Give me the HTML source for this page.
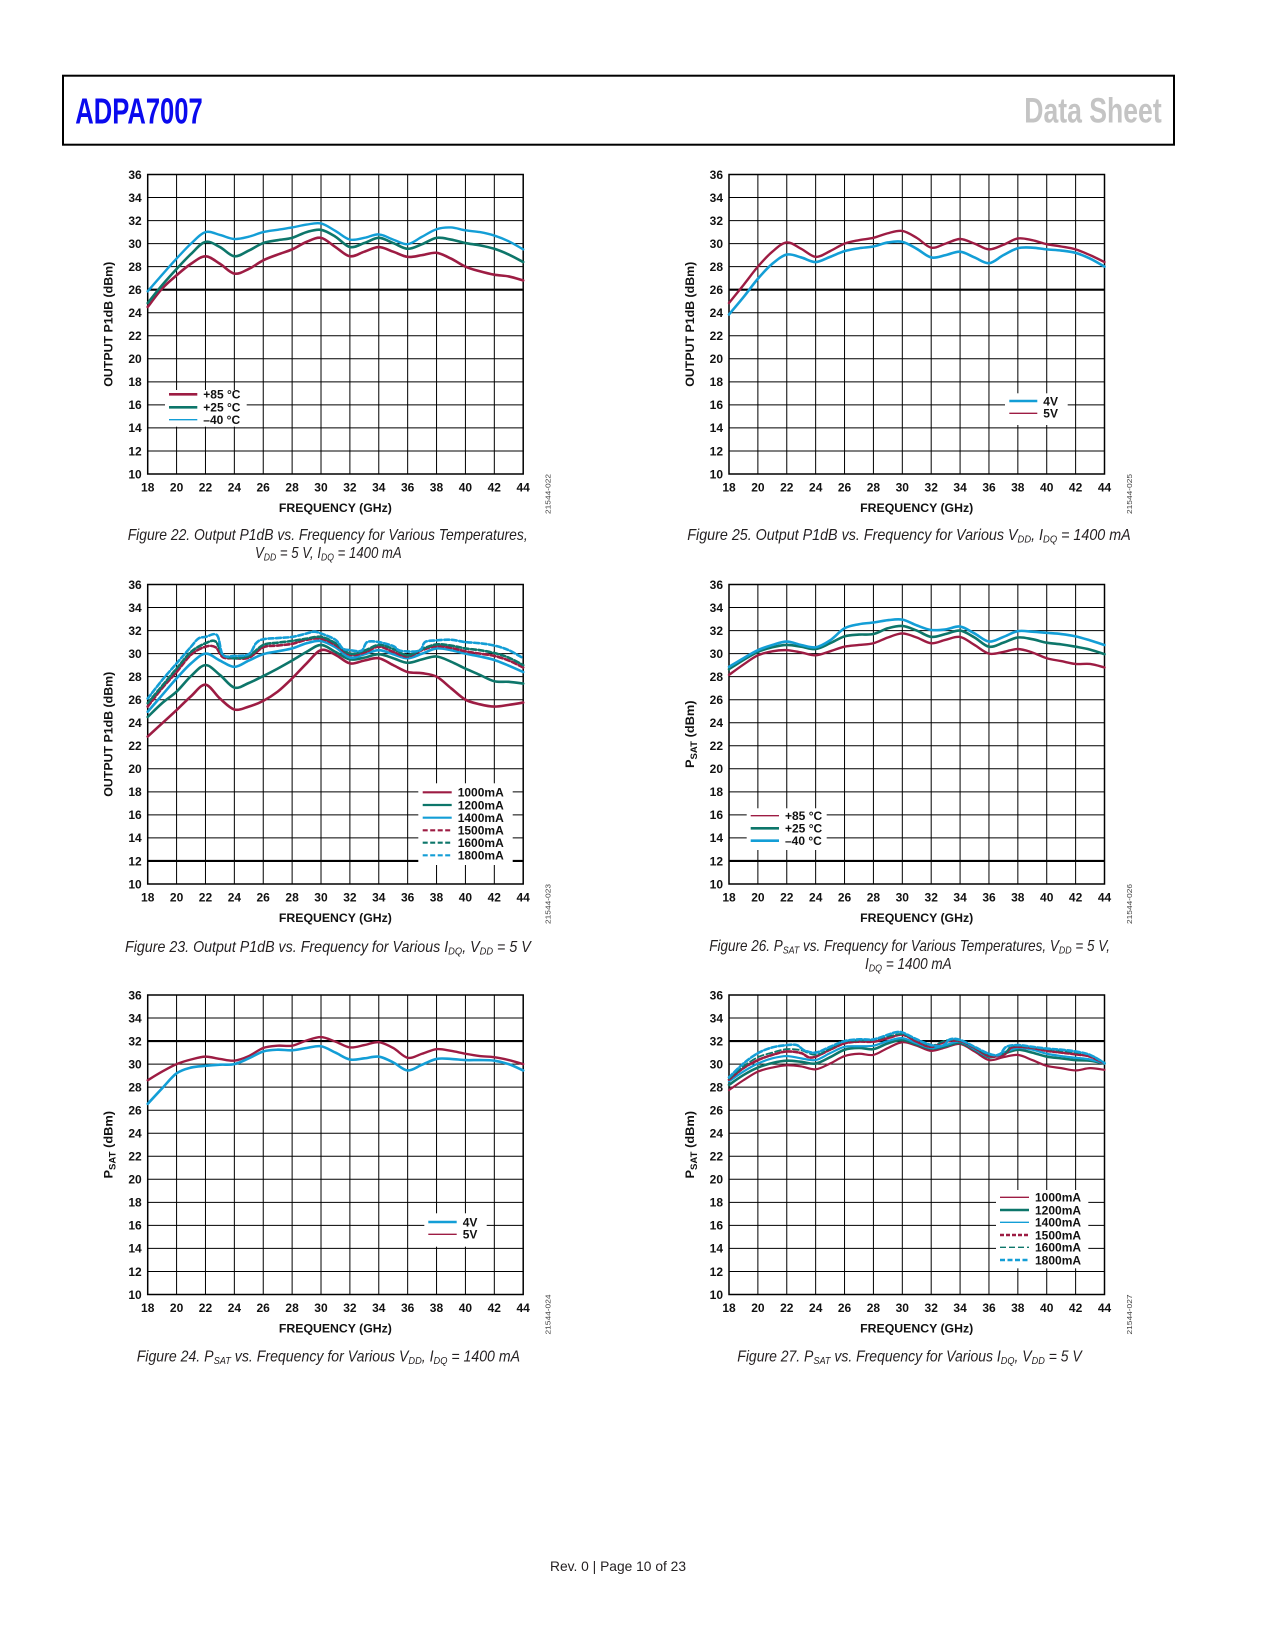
<!DOCTYPE html>
<html><head><meta charset="utf-8"><style>
html,body{margin:0;padding:0;background:#fff;}
svg{display:block;}
.tk{font:bold 12px "Liberation Sans",Arial,sans-serif;fill:#111;}
.ax{font:bold 12px "Liberation Sans",Arial,sans-serif;fill:#111;}
.lg{font:bold 12px "Liberation Sans",Arial,sans-serif;fill:#111;}
.id{font:7.5px "Liberation Sans",Arial,sans-serif;fill:#444;}
.cap{font:italic 16px "Liberation Sans",Arial,sans-serif;fill:#231f20;}
.grid{stroke:#000;stroke-width:1;fill:none;}
.cv{fill:none;stroke-linejoin:round;stroke-linecap:round;}
.r{stroke:#9d1c43;}.t{stroke:#0d766a;}.b{stroke:#139ed6;}
</style></head><body>
<svg width="1275" height="1650" viewBox="0 0 1275 1650" xmlns="http://www.w3.org/2000/svg">
<rect x="0" y="0" width="1275" height="1650" fill="#fff"/>
<!-- header -->
<rect x="63" y="75.7" width="1111" height="69" fill="none" stroke="#000" stroke-width="2"/>
<text x="75.3" y="123.3" textLength="127.4" lengthAdjust="spacingAndGlyphs" style="font:bold 35.7px 'Liberation Sans',Arial,sans-serif;fill:#0a0aee;">ADPA7007</text>
<text x="1024.3" y="122.7" textLength="137.4" lengthAdjust="spacingAndGlyphs" style="font:bold 35px 'Liberation Sans',Arial,sans-serif;fill:#c4c4c4;">Data Sheet</text>

<defs>
<path id="gp" d="M28.88 0V299.5M57.77 0V299.5M86.65 0V299.5M115.54 0V299.5M144.42 0V299.5M173.31 0V299.5M202.19 0V299.5M231.08 0V299.5M259.96 0V299.5M288.85 0V299.5M317.73 0V299.5M346.62 0V299.5M0 23.04H375.5M0 46.08H375.5M0 69.12H375.5M0 92.15H375.5M0 115.19H375.5M0 138.23H375.5M0 161.27H375.5M0 184.31H375.5M0 207.35H375.5M0 230.38H375.5M0 253.42H375.5M0 276.46H375.5"/>
</defs>

<!-- ============ CHART 1 ============ -->
<g transform="translate(147.7,174.5)">
<use href="#gp" class="grid"/>
<rect x="0" y="0" width="375.5" height="299.5" fill="none" stroke="#000" stroke-width="1.5"/>
<line x1="0" y1="115.19" x2="375.5" y2="115.19" stroke="#000" stroke-width="2.2"/>
<rect x="17.3" y="215.5" width="81.7" height="36.7" fill="#fff"/>
<line x1="21.3" y1="219.8" x2="49.6" y2="219.8" class="r" stroke-width="2.6"/>
<line x1="21.3" y1="232.8" x2="49.6" y2="232.8" class="t" stroke-width="2.6"/>
<line x1="21.3" y1="245.2" x2="49.6" y2="245.2" class="b" stroke-width="1.3"/>
<text class="lg"><tspan x="55.6" y="224.1">+85 °C</tspan><tspan x="55.6" y="237.1">+25 °C</tspan><tspan x="55.6" y="249.5">–40 °C</tspan></text>
<g transform="matrix(14.4423,0,0,-11.5192,-259.96,414.69)">
<polyline class="cv r" vector-effect="non-scaling-stroke" stroke-width="2.6" points="18,24.5 19,26.1 20,27.25 21,28.25 22,28.9 23,28.25 24,27.4 25,27.8 26,28.55 27,29.05 28,29.5 29,30.15 30,30.5 31,29.7 32,28.9 33,29.3 34,29.7 35,29.3 36,28.85 37,29.0 38,29.2 39,28.7 40,28.0 41,27.6 42,27.3 43,27.15 44,26.8"/>
<polyline class="cv t" vector-effect="non-scaling-stroke" stroke-width="2.6" points="18,24.84 19,26.4 20,27.8 21,29.1 22,30.15 23,29.7 24,28.9 25,29.4 26,30.05 27,30.3 28,30.5 29,31.0 30,31.2 31,30.6 32,29.7 33,30.05 34,30.5 35,30.05 36,29.55 37,29.95 38,30.5 39,30.35 40,30.05 41,29.85 42,29.55 43,29.05 44,28.4"/>
<polyline class="cv b" vector-effect="non-scaling-stroke" stroke-width="2.4" points="18,25.86 19,27.3 20,28.7 21,30.0 22,31.0 23,30.75 24,30.4 25,30.6 26,31.0 27,31.2 28,31.4 29,31.65 30,31.75 31,31.1 32,30.35 33,30.5 34,30.8 35,30.35 36,29.95 37,30.6 38,31.25 39,31.4 40,31.15 41,31.0 42,30.7 43,30.2 44,29.5"/>
</g>
<text class="tk" text-anchor="end"><tspan x="-6" y="4.3">36</tspan><tspan x="-6" y="27.3">34</tspan><tspan x="-6" y="50.4">32</tspan><tspan x="-6" y="73.4">30</tspan><tspan x="-6" y="96.5">28</tspan><tspan x="-6" y="119.5">26</tspan><tspan x="-6" y="142.5">24</tspan><tspan x="-6" y="165.6">22</tspan><tspan x="-6" y="188.6">20</tspan><tspan x="-6" y="211.7">18</tspan><tspan x="-6" y="234.7">16</tspan><tspan x="-6" y="257.7">14</tspan><tspan x="-6" y="280.8">12</tspan><tspan x="-6" y="303.8">10</tspan></text>
<text class="tk" text-anchor="middle" y="317.2"><tspan x="0">18</tspan><tspan x="28.9">20</tspan><tspan x="57.8">22</tspan><tspan x="86.7">24</tspan><tspan x="115.5">26</tspan><tspan x="144.4">28</tspan><tspan x="173.3">30</tspan><tspan x="202.2">32</tspan><tspan x="231.1">34</tspan><tspan x="260">36</tspan><tspan x="288.8">38</tspan><tspan x="317.7">40</tspan><tspan x="346.6">42</tspan><tspan x="375.5">44</tspan></text>
<text class="ax" x="131.2" y="337.5" textLength="113" lengthAdjust="spacingAndGlyphs">FREQUENCY (GHz)</text>
<text class="ax" transform="translate(-35.1,149.75) rotate(-90)" x="-62.5" y="0" textLength="125" lengthAdjust="spacingAndGlyphs">OUTPUT P1dB (dBm)</text>
<text class="id" transform="translate(402.9,319.5) rotate(-90)" x="-20" y="0" textLength="40" lengthAdjust="spacingAndGlyphs">21544-022</text>
</g>

<!-- ============ CHART 2 ============ -->
<g transform="translate(147.7,584.5)">
<use href="#gp" class="grid"/>
<rect x="0" y="0" width="375.5" height="299.5" fill="none" stroke="#000" stroke-width="1.5"/>
<line x1="0" y1="276.46" x2="375.5" y2="276.46" stroke="#000" stroke-width="2.2"/>
<rect x="270.6" y="198.8" width="94.4" height="81.7" fill="#fff"/>
<line x1="275" y1="207.8" x2="304" y2="207.8" class="r" stroke-width="2.2"/>
<line x1="275" y1="220.5" x2="304" y2="220.5" class="t" stroke-width="2.2"/>
<line x1="275" y1="233.2" x2="304" y2="233.2" class="b" stroke-width="2.2"/>
<line x1="275" y1="245.8" x2="304" y2="245.8" class="r" stroke-width="2.2" stroke-dasharray="5 2.5"/>
<line x1="275" y1="258.2" x2="304" y2="258.2" class="t" stroke-width="2.2" stroke-dasharray="5 2.5"/>
<line x1="275" y1="270.8" x2="304" y2="270.8" class="b" stroke-width="2.2" stroke-dasharray="5 2.5"/>
<text class="lg"><tspan x="310" y="212.1">1000mA</tspan><tspan x="310" y="224.8">1200mA</tspan><tspan x="310" y="237.5">1400mA</tspan><tspan x="310" y="250.1">1500mA</tspan><tspan x="310" y="262.5">1600mA</tspan><tspan x="310" y="275.1">1800mA</tspan></text>
<g transform="matrix(14.4423,0,0,-11.5192,-259.96,414.69)">
<polyline class="cv r" vector-effect="non-scaling-stroke" stroke-width="2.6" points="18,22.8 19,23.95 20,25.1 21,26.3 22,27.3 23,26.1 24,25.15 25,25.4 26,25.9 27,26.7 28,27.85 29,29.15 30,30.3 31,29.9 32,29.15 33,29.4 34,29.6 35,29.0 36,28.4 37,28.3 38,28.0 39,27.0 40,26.0 41,25.6 42,25.4 43,25.55 44,25.75"/>
<polyline class="cv t" vector-effect="non-scaling-stroke" stroke-width="2.6" points="18,24.5 19,25.7 20,26.7 21,28.05 22,29.0 23,28.15 24,27.05 25,27.45 26,28.05 27,28.7 28,29.4 29,30.15 30,30.75 31,30.15 32,29.5 33,29.65 34,29.95 35,29.6 36,29.2 37,29.5 38,29.75 39,29.3 40,28.7 41,28.15 42,27.6 43,27.55 44,27.4"/>
<polyline class="cv b" vector-effect="non-scaling-stroke" stroke-width="2.6" points="18,24.95 19,26.4 20,27.85 21,29.15 22,30.0 23,29.4 24,28.85 25,29.4 26,29.95 27,30.2 28,30.45 29,30.9 30,31.1 31,30.55 32,29.65 33,29.95 34,30.3 35,29.95 36,29.6 37,30.0 38,30.45 39,30.3 40,30.0 41,29.75 42,29.45 43,28.95 44,28.4"/>
<polyline class="cv r" vector-effect="non-scaling-stroke" stroke-width="2.6" stroke-dasharray="5 2.5" stroke-linecap="butt" points="18,25.4 19,27.0 20,28.4 21,29.9 22,30.6 22.7,30.55 23.2,29.7 24,29.6 25,29.65 26,30.55 27,30.7 28,30.85 29,31.2 30,31.3 31,30.75 32,29.9 33,30.1 34,30.6 35,30.15 36,29.75 37,30.3 38,30.65 39,30.5 40,30.2 41,30.0 42,29.8 43,29.4 44,28.8"/>
<polyline class="cv t" vector-effect="non-scaling-stroke" stroke-width="2.6" stroke-dasharray="5 2.5" stroke-linecap="butt" points="18,25.7 19,27.2 20,28.7 21,30.15 22,30.9 22.7,31.05 23.2,29.9 24,29.6 25,29.8 26,30.75 27,30.95 28,31.1 29,31.3 30,31.45 31,30.9 32,30.0 33,30.25 34,30.75 35,30.4 36,29.85 37,30.4 38,30.8 39,30.7 40,30.45 41,30.3 42,30.05 43,29.65 44,29.0"/>
<polyline class="cv b" vector-effect="non-scaling-stroke" stroke-width="2.6" stroke-dasharray="5 2.5" stroke-linecap="butt" points="18,26.1 19,27.7 20,29.15 21,30.6 21.5,31.3 22,31.45 22.8,31.6 23.2,29.9 24,29.8 25,29.95 25.5,30.9 26,31.25 27,31.35 28,31.45 29,31.75 29.5,31.9 30,31.75 31,31.2 31.5,30.45 32,30.3 32.8,30.25 33.2,31.0 34,31.0 35,30.65 35.5,30.25 36.8,30.25 37.2,31.0 38,31.15 39,31.2 40,31.0 41,30.9 42,30.7 43,30.3 44,29.6"/>
</g>
<text class="tk" text-anchor="end"><tspan x="-6" y="4.3">36</tspan><tspan x="-6" y="27.3">34</tspan><tspan x="-6" y="50.4">32</tspan><tspan x="-6" y="73.4">30</tspan><tspan x="-6" y="96.5">28</tspan><tspan x="-6" y="119.5">26</tspan><tspan x="-6" y="142.5">24</tspan><tspan x="-6" y="165.6">22</tspan><tspan x="-6" y="188.6">20</tspan><tspan x="-6" y="211.7">18</tspan><tspan x="-6" y="234.7">16</tspan><tspan x="-6" y="257.7">14</tspan><tspan x="-6" y="280.8">12</tspan><tspan x="-6" y="303.8">10</tspan></text>
<text class="tk" text-anchor="middle" y="317.2"><tspan x="0">18</tspan><tspan x="28.9">20</tspan><tspan x="57.8">22</tspan><tspan x="86.7">24</tspan><tspan x="115.5">26</tspan><tspan x="144.4">28</tspan><tspan x="173.3">30</tspan><tspan x="202.2">32</tspan><tspan x="231.1">34</tspan><tspan x="260">36</tspan><tspan x="288.8">38</tspan><tspan x="317.7">40</tspan><tspan x="346.6">42</tspan><tspan x="375.5">44</tspan></text>
<text class="ax" x="131.2" y="337.5" textLength="113" lengthAdjust="spacingAndGlyphs">FREQUENCY (GHz)</text>
<text class="ax" transform="translate(-35.1,149.75) rotate(-90)" x="-62.5" y="0" textLength="125" lengthAdjust="spacingAndGlyphs">OUTPUT P1dB (dBm)</text>
<text class="id" transform="translate(402.9,319.5) rotate(-90)" x="-20" y="0" textLength="40" lengthAdjust="spacingAndGlyphs">21544-023</text>
</g>

<!-- ============ CHART 3 ============ -->
<g transform="translate(147.7,995)">
<use href="#gp" class="grid"/>
<rect x="0" y="0" width="375.5" height="299.5" fill="none" stroke="#000" stroke-width="1.5"/>
<line x1="0" y1="46.08" x2="375.5" y2="46.08" stroke="#000" stroke-width="2.2"/>
<rect x="276.6" y="218.3" width="62.4" height="33.4" fill="#fff"/>
<line x1="280.6" y1="227" x2="309" y2="227" class="b" stroke-width="2.6"/>
<line x1="280.6" y1="239.3" x2="309" y2="239.3" class="r" stroke-width="1.4"/>
<text class="lg"><tspan x="315" y="231.3">4V</tspan><tspan x="315" y="243.6">5V</tspan></text>
<g transform="matrix(14.4423,0,0,-11.5192,-259.96,414.69)">
<polyline class="cv r" vector-effect="non-scaling-stroke" stroke-width="2.4" points="18,28.6 19,29.35 20,30.0 21,30.4 22,30.65 23,30.45 24,30.3 25,30.7 26,31.4 27,31.6 28,31.6 29,32.05 30,32.35 31,31.95 32,31.45 33,31.65 34,31.9 35,31.4 36,30.55 37,30.9 38,31.3 39,31.15 40,30.9 41,30.7 42,30.6 43,30.35 44,30.0"/>
<polyline class="cv b" vector-effect="non-scaling-stroke" stroke-width="2.6" points="18,26.55 19,27.9 20,29.2 21,29.7 22,29.85 23,29.95 24,30.0 25,30.5 26,31.1 27,31.25 28,31.2 29,31.4 30,31.55 31,31.0 32,30.4 33,30.5 34,30.65 35,30.15 36,29.45 37,29.95 38,30.45 39,30.45 40,30.35 41,30.35 42,30.3 43,30.0 44,29.45"/>
</g>
<text class="tk" text-anchor="end"><tspan x="-6" y="4.3">36</tspan><tspan x="-6" y="27.3">34</tspan><tspan x="-6" y="50.4">32</tspan><tspan x="-6" y="73.4">30</tspan><tspan x="-6" y="96.5">28</tspan><tspan x="-6" y="119.5">26</tspan><tspan x="-6" y="142.5">24</tspan><tspan x="-6" y="165.6">22</tspan><tspan x="-6" y="188.6">20</tspan><tspan x="-6" y="211.7">18</tspan><tspan x="-6" y="234.7">16</tspan><tspan x="-6" y="257.7">14</tspan><tspan x="-6" y="280.8">12</tspan><tspan x="-6" y="303.8">10</tspan></text>
<text class="tk" text-anchor="middle" y="317.2"><tspan x="0">18</tspan><tspan x="28.9">20</tspan><tspan x="57.8">22</tspan><tspan x="86.7">24</tspan><tspan x="115.5">26</tspan><tspan x="144.4">28</tspan><tspan x="173.3">30</tspan><tspan x="202.2">32</tspan><tspan x="231.1">34</tspan><tspan x="260">36</tspan><tspan x="288.8">38</tspan><tspan x="317.7">40</tspan><tspan x="346.6">42</tspan><tspan x="375.5">44</tspan></text>
<text class="ax" x="131.2" y="337.5" textLength="113" lengthAdjust="spacingAndGlyphs">FREQUENCY (GHz)</text>
<text class="ax" transform="translate(-35.1,149.75) rotate(-90)" x="-33.8" y="0" textLength="67.6" lengthAdjust="spacingAndGlyphs">P<tspan font-size="9" dy="3">SAT</tspan><tspan dy="-3"> (dBm)</tspan></text>
<text class="id" transform="translate(402.9,319.5) rotate(-90)" x="-20" y="0" textLength="40" lengthAdjust="spacingAndGlyphs">21544-024</text>
</g>

<!-- ============ CHART 4 ============ -->
<g transform="translate(729,174.5)">
<use href="#gp" class="grid"/>
<rect x="0" y="0" width="375.5" height="299.5" fill="none" stroke="#000" stroke-width="1.5"/>
<line x1="0" y1="115.19" x2="375.5" y2="115.19" stroke="#000" stroke-width="2.2"/>
<rect x="276" y="218.8" width="62.7" height="31.7" fill="#fff"/>
<line x1="280.3" y1="226.5" x2="308.3" y2="226.5" class="b" stroke-width="2.6"/>
<line x1="280.3" y1="238.8" x2="308.3" y2="238.8" class="r" stroke-width="1.4"/>
<text class="lg"><tspan x="314.3" y="230.8">4V</tspan><tspan x="314.3" y="243.1">5V</tspan></text>
<g transform="matrix(14.4423,0,0,-11.5192,-259.96,414.69)">
<polyline class="cv r" vector-effect="non-scaling-stroke" stroke-width="2.4" points="18,24.84 19,26.4 20,28.0 21,29.3 22,30.1 23,29.55 24,28.85 25,29.35 26,30.0 27,30.3 28,30.5 29,30.9 30,31.1 31,30.5 32,29.65 33,30.0 34,30.4 35,30.0 36,29.5 37,29.9 38,30.45 39,30.3 40,29.95 41,29.75 42,29.5 43,29.0 44,28.4"/>
<polyline class="cv b" vector-effect="non-scaling-stroke" stroke-width="2.6" points="18,23.85 19,25.35 20,26.95 21,28.25 22,29.05 23,28.8 24,28.4 25,28.85 26,29.35 27,29.6 28,29.75 29,30.1 30,30.15 31,29.55 32,28.8 33,29.0 34,29.3 35,28.8 36,28.3 37,29.0 38,29.6 39,29.65 40,29.5 41,29.4 42,29.2 43,28.7 44,28.0"/>
</g>
<text class="tk" text-anchor="end"><tspan x="-6" y="4.3">36</tspan><tspan x="-6" y="27.3">34</tspan><tspan x="-6" y="50.4">32</tspan><tspan x="-6" y="73.4">30</tspan><tspan x="-6" y="96.5">28</tspan><tspan x="-6" y="119.5">26</tspan><tspan x="-6" y="142.5">24</tspan><tspan x="-6" y="165.6">22</tspan><tspan x="-6" y="188.6">20</tspan><tspan x="-6" y="211.7">18</tspan><tspan x="-6" y="234.7">16</tspan><tspan x="-6" y="257.7">14</tspan><tspan x="-6" y="280.8">12</tspan><tspan x="-6" y="303.8">10</tspan></text>
<text class="tk" text-anchor="middle" y="317.2"><tspan x="0">18</tspan><tspan x="28.9">20</tspan><tspan x="57.8">22</tspan><tspan x="86.7">24</tspan><tspan x="115.5">26</tspan><tspan x="144.4">28</tspan><tspan x="173.3">30</tspan><tspan x="202.2">32</tspan><tspan x="231.1">34</tspan><tspan x="260">36</tspan><tspan x="288.8">38</tspan><tspan x="317.7">40</tspan><tspan x="346.6">42</tspan><tspan x="375.5">44</tspan></text>
<text class="ax" x="131.2" y="337.5" textLength="113" lengthAdjust="spacingAndGlyphs">FREQUENCY (GHz)</text>
<text class="ax" transform="translate(-35.1,149.75) rotate(-90)" x="-62.5" y="0" textLength="125" lengthAdjust="spacingAndGlyphs">OUTPUT P1dB (dBm)</text>
<text class="id" transform="translate(402.9,319.5) rotate(-90)" x="-20" y="0" textLength="40" lengthAdjust="spacingAndGlyphs">21544-025</text>
</g>

<!-- ============ CHART 5 ============ -->
<g transform="translate(729,584.5)">
<use href="#gp" class="grid"/>
<rect x="0" y="0" width="375.5" height="299.5" fill="none" stroke="#000" stroke-width="1.5"/>
<line x1="0" y1="276.46" x2="375.5" y2="276.46" stroke="#000" stroke-width="2.2"/>
<rect x="17.7" y="223.8" width="80" height="41.7" fill="#fff"/>
<line x1="21.7" y1="231.2" x2="50" y2="231.2" class="r" stroke-width="1.4"/>
<line x1="21.7" y1="243.8" x2="50" y2="243.8" class="t" stroke-width="2.6"/>
<line x1="21.7" y1="256.2" x2="50" y2="256.2" class="b" stroke-width="2.6"/>
<text class="lg"><tspan x="56" y="235.5">+85 °C</tspan><tspan x="56" y="248.1">+25 °C</tspan><tspan x="56" y="260.5">–40 °C</tspan></text>
<g transform="matrix(14.4423,0,0,-11.5192,-259.96,414.69)">
<polyline class="cv r" vector-effect="non-scaling-stroke" stroke-width="2.4" points="18,28.15 19,29.05 20,29.85 21,30.2 22,30.3 23,30.1 24,29.85 25,30.2 26,30.6 27,30.75 28,30.9 29,31.4 30,31.75 31,31.4 32,30.9 33,31.2 34,31.45 35,30.75 36,30.0 37,30.15 38,30.4 39,30.1 40,29.6 41,29.35 42,29.1 43,29.1 44,28.8"/>
<polyline class="cv t" vector-effect="non-scaling-stroke" stroke-width="2.6" points="18,28.65 19,29.45 20,30.15 21,30.55 22,30.75 23,30.6 24,30.4 25,30.9 26,31.5 27,31.65 28,31.7 29,32.2 30,32.4 31,32.0 32,31.45 33,31.7 34,32.0 35,31.4 36,30.6 37,30.95 38,31.4 39,31.25 40,30.95 41,30.8 42,30.6 43,30.35 44,29.95"/>
<polyline class="cv b" vector-effect="non-scaling-stroke" stroke-width="2.6" points="18,28.85 19,29.6 20,30.3 21,30.75 22,31.05 23,30.75 24,30.55 25,31.15 26,32.2 27,32.55 28,32.7 29,32.9 30,32.95 31,32.45 32,32.05 33,32.1 34,32.35 35,31.75 36,31.05 37,31.45 38,31.95 39,31.9 40,31.8 41,31.7 42,31.5 43,31.15 44,30.75"/>
</g>
<text class="tk" text-anchor="end"><tspan x="-6" y="4.3">36</tspan><tspan x="-6" y="27.3">34</tspan><tspan x="-6" y="50.4">32</tspan><tspan x="-6" y="73.4">30</tspan><tspan x="-6" y="96.5">28</tspan><tspan x="-6" y="119.5">26</tspan><tspan x="-6" y="142.5">24</tspan><tspan x="-6" y="165.6">22</tspan><tspan x="-6" y="188.6">20</tspan><tspan x="-6" y="211.7">18</tspan><tspan x="-6" y="234.7">16</tspan><tspan x="-6" y="257.7">14</tspan><tspan x="-6" y="280.8">12</tspan><tspan x="-6" y="303.8">10</tspan></text>
<text class="tk" text-anchor="middle" y="317.2"><tspan x="0">18</tspan><tspan x="28.9">20</tspan><tspan x="57.8">22</tspan><tspan x="86.7">24</tspan><tspan x="115.5">26</tspan><tspan x="144.4">28</tspan><tspan x="173.3">30</tspan><tspan x="202.2">32</tspan><tspan x="231.1">34</tspan><tspan x="260">36</tspan><tspan x="288.8">38</tspan><tspan x="317.7">40</tspan><tspan x="346.6">42</tspan><tspan x="375.5">44</tspan></text>
<text class="ax" x="131.2" y="337.5" textLength="113" lengthAdjust="spacingAndGlyphs">FREQUENCY (GHz)</text>
<text class="ax" transform="translate(-35.1,149.75) rotate(-90)" x="-33.8" y="0" textLength="67.6" lengthAdjust="spacingAndGlyphs">P<tspan font-size="9" dy="3">SAT</tspan><tspan dy="-3"> (dBm)</tspan></text>
<text class="id" transform="translate(402.9,319.5) rotate(-90)" x="-20" y="0" textLength="40" lengthAdjust="spacingAndGlyphs">21544-026</text>
</g>

<!-- ============ CHART 6 ============ -->
<g transform="translate(729,995)">
<use href="#gp" class="grid"/>
<rect x="0" y="0" width="375.5" height="299.5" fill="none" stroke="#000" stroke-width="1.5"/>
<line x1="0" y1="46.08" x2="375.5" y2="46.08" stroke="#000" stroke-width="2.2"/>
<rect x="267" y="195" width="92.3" height="78.3" fill="#fff"/>
<line x1="271" y1="202.3" x2="300" y2="202.3" class="r" stroke-width="1.4"/>
<line x1="271" y1="215" x2="300" y2="215" class="t" stroke-width="2.6"/>
<line x1="271" y1="227.3" x2="300" y2="227.3" class="b" stroke-width="1.4"/>
<line x1="271" y1="240" x2="300" y2="240" class="r" stroke-width="2.6" stroke-dasharray="4 2"/>
<line x1="271" y1="252.3" x2="300" y2="252.3" class="t" stroke-width="1.4" stroke-dasharray="6 3"/>
<line x1="271" y1="265" x2="300" y2="265" class="b" stroke-width="2.6" stroke-dasharray="5 2.5"/>
<text class="lg"><tspan x="306" y="206.6">1000mA</tspan><tspan x="306" y="219.3">1200mA</tspan><tspan x="306" y="231.6">1400mA</tspan><tspan x="306" y="244.3">1500mA</tspan><tspan x="306" y="256.6">1600mA</tspan><tspan x="306" y="269.3">1800mA</tspan></text>
<g transform="matrix(14.4423,0,0,-11.5192,-259.96,414.69)">
<polyline class="cv r" vector-effect="non-scaling-stroke" stroke-width="2.2" points="18,27.75 19,28.6 20,29.35 21,29.7 22,29.9 23,29.8 24,29.55 25,30.05 26,30.7 27,30.9 28,30.8 29,31.4 30,31.9 31,31.6 32,31.15 33,31.45 34,31.75 35,31.1 36,30.35 37,30.6 38,30.8 39,30.35 40,29.85 41,29.65 42,29.45 43,29.65 44,29.5"/>
<polyline class="cv t" vector-effect="non-scaling-stroke" stroke-width="2.6" points="18,28.2 19,29.05 20,29.7 21,30.1 22,30.3 23,30.2 24,30.05 25,30.6 26,31.25 27,31.4 28,31.3 29,31.8 30,32.1 31,31.7 32,31.35 33,31.55 34,31.85 35,31.25 36,30.6 37,30.9 38,31.25 39,31.0 40,30.65 41,30.5 42,30.35 43,30.3 44,30.05"/>
<polyline class="cv b" vector-effect="non-scaling-stroke" stroke-width="2.2" points="18,28.5 19,29.35 20,30.05 21,30.5 22,30.7 23,30.5 24,30.35 25,30.95 26,31.5 27,31.55 28,31.6 29,32.0 30,32.25 31,31.8 32,31.4 33,31.65 34,31.95 35,31.3 36,30.65 37,31.0 38,31.4 39,31.25 40,30.9 41,30.7 42,30.55 43,30.4 44,30.05"/>
<polyline class="cv r" vector-effect="non-scaling-stroke" stroke-width="2.6" stroke-dasharray="4 2" stroke-linecap="butt" points="18,28.65 19,29.65 20,30.35 21,30.8 22,31.1 23,30.95 23.5,30.6 24,30.65 25,31.25 26,31.8 27,31.95 28,31.95 29,32.25 30,32.55 31,31.95 32,31.5 33,31.95 34,32.0 35,31.4 36,30.7 37,30.8 37.5,31.4 38,31.5 39,31.4 40,31.15 41,31.0 42,30.85 43,30.65 44,30.05"/>
<polyline class="cv t" vector-effect="non-scaling-stroke" stroke-width="1.8" stroke-dasharray="6 3" stroke-linecap="butt" points="18,28.75 19,29.8 20,30.6 21,31.0 22,31.3 23,31.2 24,30.8 25,31.35 26,31.95 27,32.05 28,32.1 29,32.4 30,32.6 31,32.1 32,31.6 33,32.05 34,32.05 35,31.45 36,30.8 37,30.9 37.5,31.5 38,31.6 39,31.45 40,31.3 41,31.15 42,31.0 43,30.8 44,30.1"/>
<polyline class="cv b" vector-effect="non-scaling-stroke" stroke-width="2.6" stroke-dasharray="5 2.5" stroke-linecap="butt" points="18,28.85 19,30.05 20,30.95 21,31.45 22,31.65 22.7,31.65 23.2,31.2 24,31.0 25,31.5 26,32.0 27,32.15 28,32.15 29,32.55 29.5,32.75 30,32.75 31,32.15 32,31.65 32.8,31.6 33.3,32.15 34,32.1 35,31.5 36,30.9 36.7,30.8 37.2,31.5 38,31.65 39,31.5 40,31.35 41,31.25 42,31.1 43,30.8 44,30.1"/>
</g>
<text class="tk" text-anchor="end"><tspan x="-6" y="4.3">36</tspan><tspan x="-6" y="27.3">34</tspan><tspan x="-6" y="50.4">32</tspan><tspan x="-6" y="73.4">30</tspan><tspan x="-6" y="96.5">28</tspan><tspan x="-6" y="119.5">26</tspan><tspan x="-6" y="142.5">24</tspan><tspan x="-6" y="165.6">22</tspan><tspan x="-6" y="188.6">20</tspan><tspan x="-6" y="211.7">18</tspan><tspan x="-6" y="234.7">16</tspan><tspan x="-6" y="257.7">14</tspan><tspan x="-6" y="280.8">12</tspan><tspan x="-6" y="303.8">10</tspan></text>
<text class="tk" text-anchor="middle" y="317.2"><tspan x="0">18</tspan><tspan x="28.9">20</tspan><tspan x="57.8">22</tspan><tspan x="86.7">24</tspan><tspan x="115.5">26</tspan><tspan x="144.4">28</tspan><tspan x="173.3">30</tspan><tspan x="202.2">32</tspan><tspan x="231.1">34</tspan><tspan x="260">36</tspan><tspan x="288.8">38</tspan><tspan x="317.7">40</tspan><tspan x="346.6">42</tspan><tspan x="375.5">44</tspan></text>
<text class="ax" x="131.2" y="337.5" textLength="113" lengthAdjust="spacingAndGlyphs">FREQUENCY (GHz)</text>
<text class="ax" transform="translate(-35.1,149.75) rotate(-90)" x="-33.8" y="0" textLength="67.6" lengthAdjust="spacingAndGlyphs">P<tspan font-size="9" dy="3">SAT</tspan><tspan dy="-3"> (dBm)</tspan></text>
<text class="id" transform="translate(402.9,319.5) rotate(-90)" x="-20" y="0" textLength="40" lengthAdjust="spacingAndGlyphs">21544-027</text>
</g>

<!-- captions -->
<text class="cap" x="127.7" y="540" textLength="400" lengthAdjust="spacingAndGlyphs">Figure 22. Output P1dB vs. Frequency for Various Temperatures,</text>
<text class="cap" x="255" y="558" textLength="146.7" lengthAdjust="spacingAndGlyphs">V<tspan font-size="10.5" dy="2.5">DD</tspan><tspan dy="-2.5"> = 5 V, I</tspan><tspan font-size="10.5" dy="2.5">DQ</tspan><tspan dy="-2.5"> = 1400 mA</tspan></text>

<text class="cap" x="125" y="952" textLength="405.7" lengthAdjust="spacingAndGlyphs">Figure 23. Output P1dB vs. Frequency for Various I<tspan font-size="10.5" dy="2.5">DQ</tspan><tspan dy="-2.5">, V</tspan><tspan font-size="10.5" dy="2.5">DD</tspan><tspan dy="-2.5"> = 5 V</tspan></text>

<text class="cap" x="136.7" y="1361.5" textLength="383.3" lengthAdjust="spacingAndGlyphs">Figure 24. P<tspan font-size="10.5" dy="2.5">SAT</tspan><tspan dy="-2.5"> vs. Frequency for Various V</tspan><tspan font-size="10.5" dy="2.5">DD</tspan><tspan dy="-2.5">, I</tspan><tspan font-size="10.5" dy="2.5">DQ</tspan><tspan dy="-2.5"> = 1400 mA</tspan></text>

<text class="cap" x="687.3" y="540" textLength="443.4" lengthAdjust="spacingAndGlyphs">Figure 25. Output P1dB vs. Frequency for Various V<tspan font-size="10.5" dy="2.5">DD</tspan><tspan dy="-2.5">, I</tspan><tspan font-size="10.5" dy="2.5">DQ</tspan><tspan dy="-2.5"> = 1400 mA</tspan></text>

<text class="cap" x="709.3" y="951" textLength="400.7" lengthAdjust="spacingAndGlyphs">Figure 26. P<tspan font-size="10.5" dy="2.5">SAT</tspan><tspan dy="-2.5"> vs. Frequency for Various Temperatures, V</tspan><tspan font-size="10.5" dy="2.5">DD</tspan><tspan dy="-2.5"> = 5 V,</tspan></text>
<text class="cap" x="865" y="969" textLength="86.7" lengthAdjust="spacingAndGlyphs">I<tspan font-size="10.5" dy="2.5">DQ</tspan><tspan dy="-2.5"> = 1400 mA</tspan></text>

<text class="cap" x="737.3" y="1361.5" textLength="344.4" lengthAdjust="spacingAndGlyphs">Figure 27. P<tspan font-size="10.5" dy="2.5">SAT</tspan><tspan dy="-2.5"> vs. Frequency for Various I</tspan><tspan font-size="10.5" dy="2.5">DQ</tspan><tspan dy="-2.5">, V</tspan><tspan font-size="10.5" dy="2.5">DD</tspan><tspan dy="-2.5"> = 5 V</tspan></text>

<!-- footer -->
<text x="550" y="1571" textLength="136" lengthAdjust="spacingAndGlyphs" style="font:14px 'Liberation Sans',Arial,sans-serif;fill:#231f20;">Rev. 0 | Page 10 of 23</text>
</svg>
<script>
(function(){
  var NS='http://www.w3.org/2000/svg';
  var list=document.querySelectorAll('polyline.cv');
  for(var k=0;k<list.length;k++){
    var pl=list[k];
    var raw=pl.getAttribute('points').trim().split(/\s+/);
    var pts=[];
    for(var i=0;i<raw.length;i++){var a=raw[i].split(',');pts.push([+a[0],+a[1]]);}
    var d='M'+pts[0][0]+','+pts[0][1];
    for(var i=0;i<pts.length-1;i++){
      var p0=pts[i-1]||pts[i],p1=pts[i],p2=pts[i+1],p3=pts[i+2]||pts[i+1];
      var t=1/6;
      var c1x=p1[0]+(p2[0]-p0[0])*t,c1y=p1[1]+(p2[1]-p0[1])*t;
      var c2x=p2[0]-(p3[0]-p1[0])*t,c2y=p2[1]-(p3[1]-p1[1])*t;
      d+=' C'+c1x.toFixed(4)+','+c1y.toFixed(4)+' '+c2x.toFixed(4)+','+c2y.toFixed(4)+' '+p2[0]+','+p2[1];
    }
    var p=document.createElementNS(NS,'path');
    for(var j=0;j<pl.attributes.length;j++){
      var at=pl.attributes[j];
      if(at.name!=='points'){p.setAttribute(at.name,at.value);}
    }
    p.setAttribute('d',d);
    pl.parentNode.replaceChild(p,pl);
  }
})();
</script>
</body></html>
